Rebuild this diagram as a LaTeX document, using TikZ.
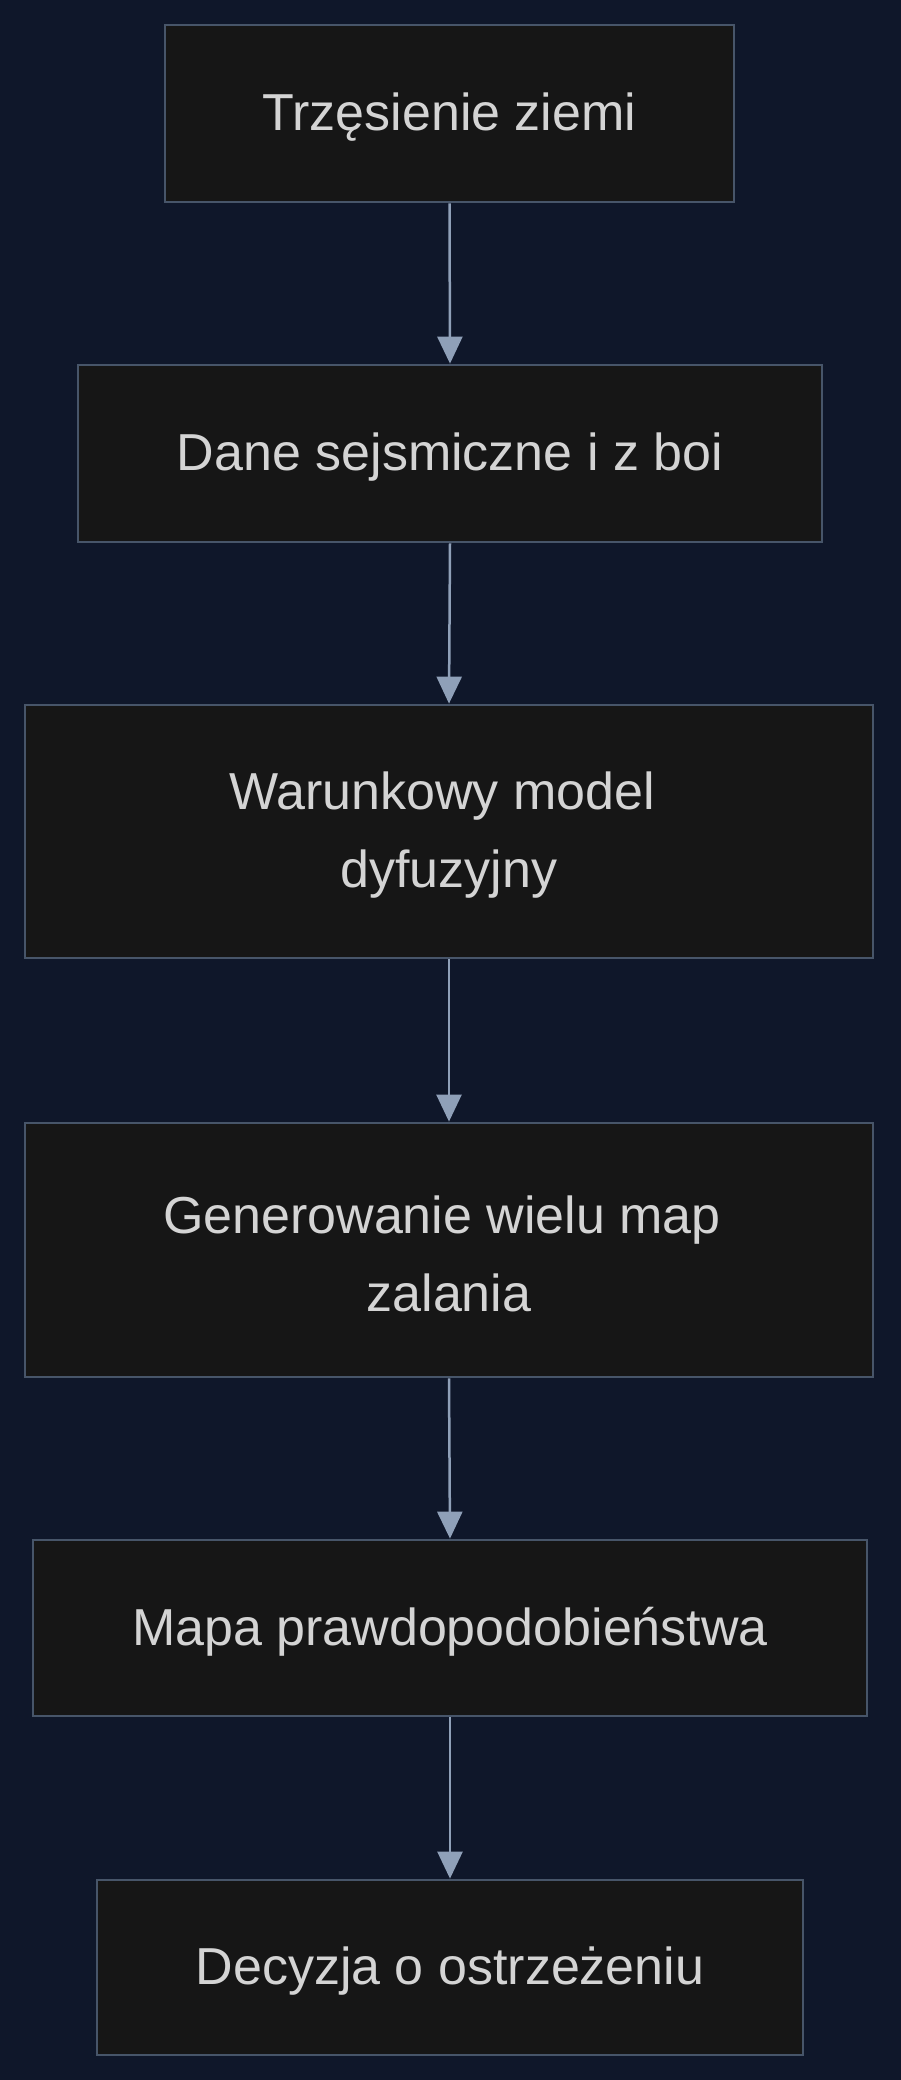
\documentclass[tikz,border=0pt]{standalone}
\usepackage{fontspec}
\setmainfont{Liberation Sans}
\usetikzlibrary{arrows.meta}
\definecolor{bgc}{HTML}{0F172A}
\definecolor{boxfill}{HTML}{161616}
\definecolor{boxline}{HTML}{475569}
\definecolor{arrowc}{HTML}{8FA0B8}
\definecolor{textc}{HTML}{D4D4D4}
\tikzset{
  flowbox/.style={draw=boxline, fill=boxfill, line width=2.8pt, inner sep=0pt},
  flowtext/.style={text=textc, align=center, inner sep=0pt, font=\fontsize{52}{78}\selectfont},
  flowarrow/.style={draw=arrowc, line width=2.5pt,
    -{Triangle[length=27pt,width=25pt]}}
}
\begin{document}
\begin{tikzpicture}[x=1pt,y=-1pt]
\useasboundingbox (0,0) rectangle (900,2080);
\fill[bgc] (-2,-2) rectangle (902,2082);
\node[flowbox, minimum width=569pt, minimum height=177pt] (n1) at (449.5,113.5) {};
\node[flowbox, minimum width=744pt, minimum height=177pt] (n2) at (450,453.5) {};
\node[flowbox, minimum width=848pt, minimum height=253pt] (n3) at (449,831.5) {};
\node[flowbox, minimum width=848pt, minimum height=254pt] (n4) at (449,1250) {};
\node[flowbox, minimum width=834pt, minimum height=176pt] (n5) at (450,1628) {};
\node[flowbox, minimum width=706pt, minimum height=175pt] (n6) at (450,1967.5) {};
\node[flowtext] (t1) at ([yshift=-4pt]n1.center) {Trzęsienie ziemi};
\node[flowtext] (t2) at ([yshift=-4pt]n2.center) {Dane sejsmiczne i z boi};
\node[flowtext] (t3) at ([yshift=-4pt]n3.center) {Warunkowy model\kern14pt\\dyfuzyjny};
\node[flowtext] (t4) at ([yshift=-4pt]n4.center) {Generowanie wielu map\kern14pt\\zalania};
\node[flowtext] (t5) at ([yshift=-4pt]n5.center) {Mapa prawdopodobieństwa};
\node[flowtext] (t6) at ([yshift=-4pt]n6.center) {Decyzja o ostrzeżeniu};
\draw[flowarrow] (n1.south) -- (n2.north);
\draw[flowarrow] (n2.south) -- (n3.north);
\draw[flowarrow] (n3.south) -- (n4.north);
\draw[flowarrow] (n4.south) -- (n5.north);
\draw[flowarrow] (n5.south) -- (n6.north);
\end{tikzpicture}
\end{document}
